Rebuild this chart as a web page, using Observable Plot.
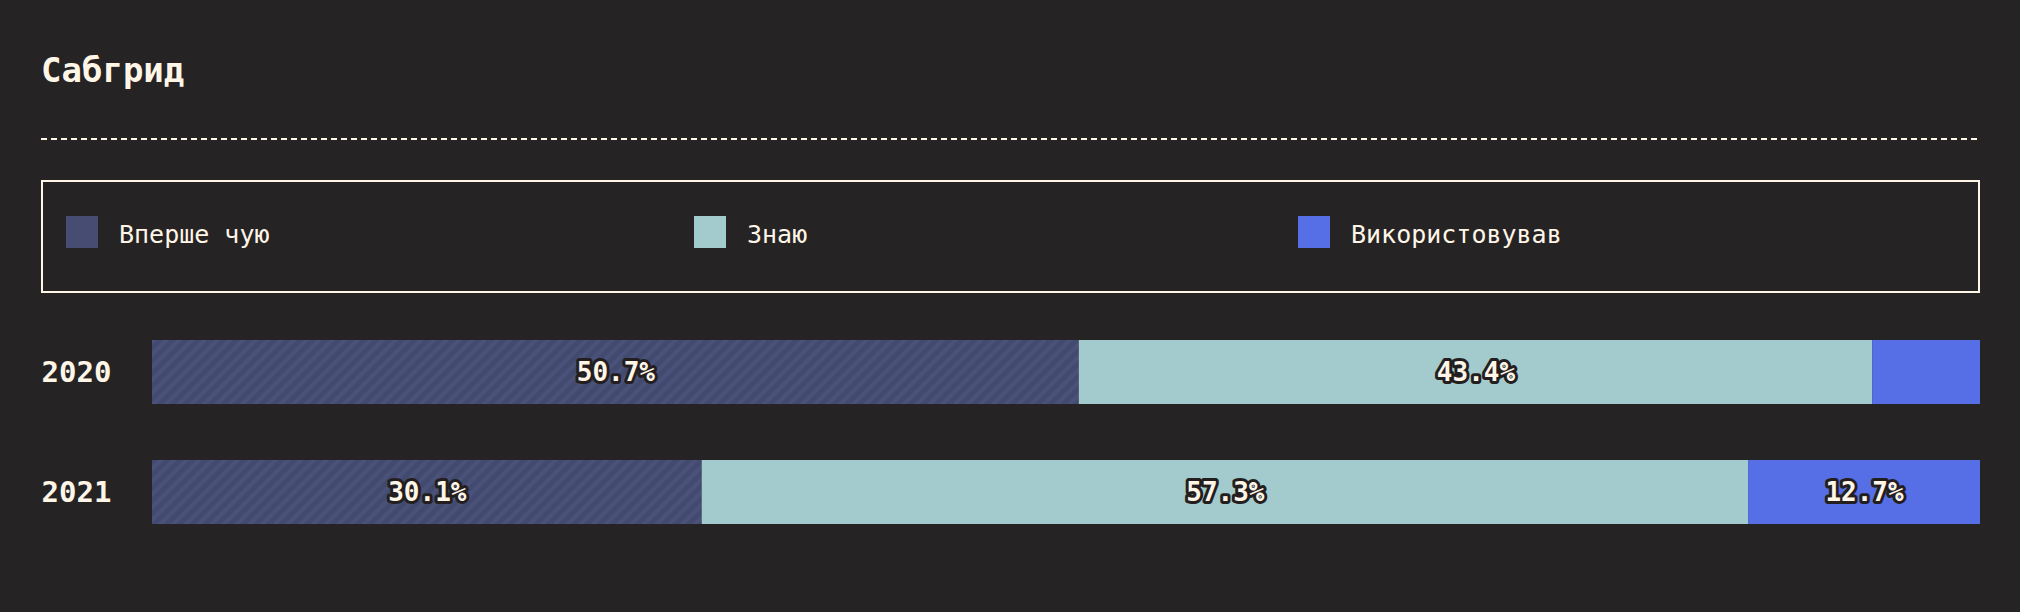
<!DOCTYPE html>
<html>
<head>
<meta charset="utf-8">
<script src="https://cdn.jsdelivr.net/npm/d3@7"></script>
<script src="https://cdn.jsdelivr.net/npm/@observablehq/plot@0.6"></script>
<style>
  html, body { margin: 0; padding: 0; background: #262325; }
  body { width: 2020px; height: 612px; position: relative; overflow: hidden;
         font-family: "DejaVu Sans Mono", "Liberation Mono", monospace; color: #fff6e8; }
  #title { position: absolute; left: 41px; top: 53px; font-size: 34px; line-height: 34px; font-weight: bold; }
  #rule { position: absolute; left: 41px; top: 137px; }
  #legend { position: absolute; left: 41px; top: 180px; width: 1939px; height: 113px;
            box-sizing: border-box; border: 2px solid #fff6e8; }
  .sw { position: absolute; width: 32px; height: 32px; top: 216px; }
  .lt { position: absolute; top: 222px; font-size: 25px; line-height: 25px; font-weight: normal; white-space: nowrap; }
  #chart { position: absolute; left: 0; top: 300px; }
</style>
</head>
<body>
<div id="title"></div>
<svg id="rule" width="1939" height="4"><line x1="0" x2="1939" y1="2" y2="2" stroke="#fff6e8" stroke-width="2" stroke-dasharray="6 4"></line></svg>
<div id="legend"></div>
<div id="legendItems"></div>
<div id="chart"></div>
<script>
const title = "Сабгрид";
const years = ["2020", "2021"];
const series = ["Вперше чую", "Знаю", "Використовував"];
const values2020 = [50.7, 43.4, 5.9];
const values2021 = [30.1, 57.3, 12.7];
const legendColors = ["#474d72", "#a3cbcd", "#566ee6"];
const barColors = ["url(#diagStripes)", "#a3cbcd", "#566ee6"];
const legendSwatchX = [66, 694, 1298];
const legendTextX = [119, 747, 1351];

document.getElementById("title").textContent = title;

const li = document.getElementById("legendItems");
series.forEach((s, i) => {
  const sw = document.createElement("div");
  sw.className = "sw";
  sw.style.left = legendSwatchX[i] + "px";
  sw.style.background = legendColors[i];
  li.appendChild(sw);
  const t = document.createElement("div");
  t.className = "lt";
  t.style.left = legendTextX[i] + "px";
  t.textContent = s;
  li.appendChild(t);
});

const valuesByYear = {"2020": values2020, "2021": values2021};
const data = years.flatMap(y => series.map((s, i) => ({year: y, series: s, value: valuesByYear[y][i]})));

const chart = Plot.plot({
  width: 2020,
  height: 284,
  marginLeft: 152,
  marginRight: 40,
  marginTop: 40,
  marginBottom: 60,
  style: {background: "transparent", fontFamily: "DejaVu Sans Mono, monospace", overflow: "visible"},
  x: {axis: null, domain: [0, 1]},
  y: {domain: years, paddingInner: 56 / 120, paddingOuter: 0, label: null},
  color: {domain: series, range: barColors},
  marks: [
    Plot.barX(data, Plot.stackX({
      offset: "normalize", x: "value", y: "year", fill: "series", order: series
    })),
    Plot.text(data, Plot.stackX({
      offset: "normalize", x: "value", y: "year", z: "series", order: series,
      text: d => d.value > 8 ? d.value.toFixed(1) + "%" : "",
      fill: "#fff6e8", stroke: "#231f20", strokeWidth: 6, paintOrder: "stroke",
      fontSize: 26, fontWeight: "bold"
    })),
    Plot.axisY({
      tickSize: 0, tickPadding: 0, textAnchor: "start", dx: -111,
      fontSize: 29, fontWeight: "bold", fill: "#fff6e8", label: null
    })
  ]
});

const svg = d3.select(chart);
const defs = svg.insert("defs", ":first-child");
const pat = defs.append("pattern")
  .attr("id", "diagStripes")
  .attr("patternUnits", "userSpaceOnUse")
  .attr("width", 9).attr("height", 9)
  .attr("patternTransform", "rotate(45)");
pat.append("rect").attr("width", 9).attr("height", 9).attr("fill", "#434a6f");
pat.append("rect").attr("width", 4).attr("height", 9).attr("fill", "#4b5279");

document.getElementById("chart").appendChild(chart);
</script>
</body>
</html>
